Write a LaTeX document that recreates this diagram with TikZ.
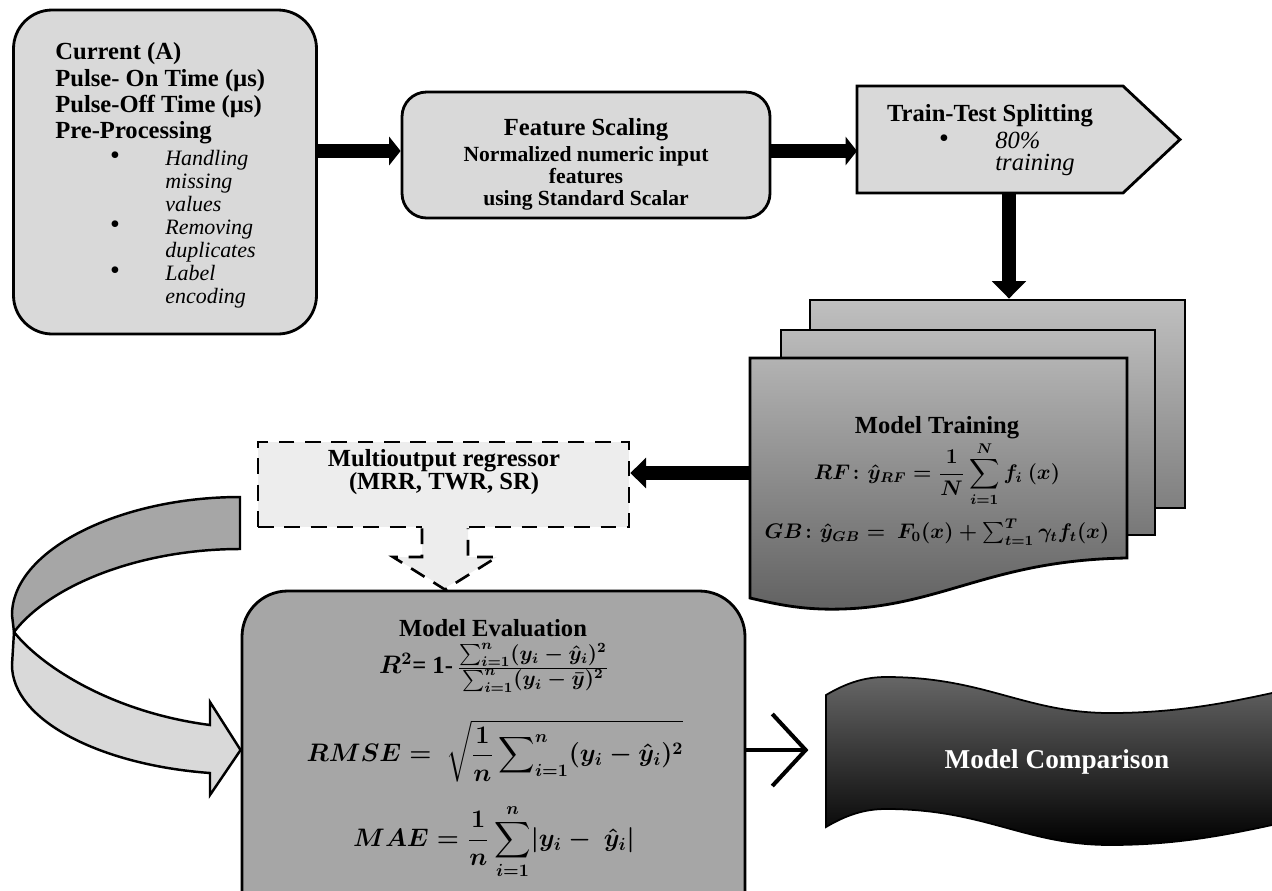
\documentclass[tikz,border=0pt]{standalone}
\usepackage{amsmath}
\usepackage{fontspec}
\setmainfont{Liberation Serif}
\usetikzlibrary{arrows.meta,calc}
\newdimen\upx \upx=0.02cm
\begin{document}
\begin{tikzpicture}[x=0.02cm,y=-0.02cm,
  bd/.style={draw=black, line width=1.6pt},
  lbox/.style={bd, fill=black!15},
  shp/.style={inner sep=0pt},
  hd/.style={font=\bfseries\fontsize{14}{16}\selectfont, inner sep=0pt},
  sub/.style={font=\bfseries\fontsize{12.3}{14}\selectfont, inner sep=0pt},
  itm/.style={font=\itshape\fontsize{12.5}{14}\selectfont, inner sep=0pt},
  itb/.style={font=\itshape\fontsize{14}{16}\selectfont, inner sep=0pt},
  bul/.style={font=\fontsize{16}{16}\selectfont, inner sep=0pt},
  eq/.style={font=\fontsize{14}{16}\selectfont\boldmath, inner sep=0pt},
  blkA/.style={draw=black, line width=7.9pt, -{Triangle[length=6.5pt, width=16pt]}},
  blkB/.style={draw=black, line width=8.5pt, -{Triangle[length=10pt, width=19pt]}},
  dsh/.style={draw=black, line width=1.5pt, dash pattern=on 9pt off 6pt},
]
\useasboundingbox (0,0) rectangle (1272,890);

% helper coordinates for connector heights
\coordinate (y151) at (0,151);
\coordinate (y473) at (0,473);
\coordinate (y750) at (0,750);

% ---------- Box 1 : inputs ----------
\node[lbox, shp, rounded corners=22pt, minimum width=303\upx, minimum height=324\upx] (inp) at (165,172) {};
\node[hd, anchor=base west] (i1) at (55,59) {Current (A)};
\node[hd, anchor=base west] (i2) at (55,86) {Pulse- On Time (µs)};
\node[hd, anchor=base west] (i3) at (55,112) {Pulse-Off Time (µs)};
\node[hd, anchor=base west] (i4) at (55,138) {Pre-Processing};
\node[bul] (ib1) at (115,158) {\textbullet};
\node[itm, anchor=base west] (i5) at (165,165) {Handling};
\node[itm, anchor=base west] (i6) at (165,188) {missing};
\node[itm, anchor=base west] (i7) at (165,211) {values};
\node[bul] (ib2) at (115,227) {\textbullet};
\node[itm, anchor=base west] (i8) at (165,234) {Removing};
\node[itm, anchor=base west] (i9) at (165,257) {duplicates};
\node[bul] (ib3) at (115,273) {\textbullet};
\node[itm, anchor=base west] (i10) at (165,280) {Label};
\node[itm, anchor=base west] (i11) at (165,303) {encoding};

% ---------- Box 2 : feature scaling ----------
\node[lbox, shp, rounded corners=14pt, minimum width=368\upx, minimum height=126\upx] (fs) at (586,155) {};
\node[hd, anchor=base] (f1) at (586,135) {Feature Scaling};
\node[sub, anchor=base] (f2) at (586,161) {Normalized numeric input};
\node[sub, anchor=base] (f3) at (586,183) {features};
\node[sub, anchor=base] (f4) at (586,205) {using Standard Scalar};

% ---------- Pentagon : train-test split ----------
\draw[lbox] (857,86) -- (1123,86) -- (1180,139.5) -- (1123,193) -- (857,193) -- cycle;
\coordinate (tts-w) at (857,151);
\coordinate (tts-s) at (1009,193);
\node[hd, anchor=base] (t1) at (990,121) {Train-Test Splitting};
\node[bul] (tb) at (944,141) {\textbullet};
\node[itb, anchor=base west] (t2) at (995,148) {80\%};
\node[itb, anchor=base west] (t3) at (995,170) {training};

% ---------- Stack : model training ----------
\node[bd, shp, top color=black!25, bottom color=black!50, minimum width=375\upx, minimum height=208\upx] (back) at (997.5,404) {};
\node[bd, shp, top color=black!27, bottom color=black!53, minimum width=374\upx, minimum height=205\upx] (mid) at (968,432.5) {};
\path[bd, top color=black!30, bottom color=black!62]
  (750,358) -- (1127,358) -- (1127,558)
  .. controls (1000,560) and (950,600) .. (860,608)
  .. controls (810,612) and (780,605) .. (750,598) -- cycle;
\coordinate (front-w) at (750,473);
\node[hd, anchor=base] (mt) at (937,433) {Model Training};
\node[eq, font=\fontsize{12}{14}\selectfont\boldmath] (rf) at (937,474) {$\displaystyle RF\colon\hat{y}_{RF}=\frac{1}{N}\sum_{i=1}^{N}f_i\ (x)$};
\node[eq, font=\fontsize{12}{14}\selectfont\boldmath] (gb) at (937,532) {$GB\colon\hat{y}_{GB}=\ F_0(x)+\sum_{t=1}^{T}\gamma_t f_t(x)$};

% ---------- Multioutput regressor ----------
\node[dsh, shp, fill=black!7, minimum width=371\upx, minimum height=85\upx] (mo) at (443.5,484.5) {};
\node[hd, anchor=base] (m1) at (444,466) {Multioutput regressor};
\node[hd, anchor=base] (m2) at (444,489) {(MRR, TWR, SR)};

% ---------- Model evaluation ----------
\node[bd, shp, fill=black!35, rounded corners=26pt, minimum width=503\upx, minimum height=369\upx] (eval) at (493.5,775.5) {};
\node[hd, anchor=base] (e1) at (493,636) {Model Evaluation};
\node[eq] (r2) at (494,668) {$R^{2}$\textbf{= 1-\,}{\fontsize{12}{13}\selectfont$\frac{\textstyle\sum_{i=1}^{n}(y_i-\hat{y}_i)^2}{\textstyle\sum_{i=1}^{n}(y_i-\bar{y})^2}$}};
\node[eq, font=\fontsize{14.5}{17}\selectfont\boldmath] (rmse) at (495,751) {$RMSE=\ \displaystyle\sqrt{\frac{1}{n}\sum\nolimits_{i=1}^{n}(y_i-\hat{y}_i)^2}$};
\node[eq, font=\fontsize{14.5}{17}\selectfont\boldmath] (mae) at (494,842) {$\displaystyle MAE=\frac{1}{n}\sum_{i=1}^{n}\lvert y_i-\ \hat{y}_i\rvert$};

% dashed block arrow from regressor to evaluation
\fill[black!7] (422,521) -- (468,521) -- (468,557) -- (497,557) -- (445,588) -- (393,557) -- (422,557) -- cycle;
\draw[dsh, line join=miter] (mo.south -| 422,0) -- (422,557) -- (393,557) -- (eval.north -| 445,0) -- (497,557) -- (468,557) -- (mo.south -| 468,0);

% ---------- Curved feedback arrow ----------
\draw[bd, line width=1.4pt, fill=black!35] (240,497) .. controls (120,497) and (12,550) .. (12,615) -- (14,632) .. controls (50,585) and (140,549) .. (240,549) -- cycle;
\draw[bd, line width=1.4pt, fill=black!15, line join=miter] (14,632) .. controls (40,665) and (110,712) .. (210,725) -- (210,702) -- (eval.west |- y750) -- (210,795) -- (210,773) .. controls (100,765) and (12,720) .. (12,665) -- cycle;

% ---------- Model comparison banner ----------
\shadedraw[draw=black, line width=1pt, top color=black!60, middle color=black, bottom color=black]
  (826,695) .. controls (848,682) and (866,677) .. (886,677)
  .. controls (985,677) and (1025,713) .. (1110,713)
  .. controls (1185,713) and (1240,700) .. (1295,688)
  -- (1295,820)
  .. controls (1240,832) and (1185,845) .. (1110,845)
  .. controls (1025,845) and (985,809) .. (886,809)
  .. controls (866,809) and (848,814) .. (826,827) -- cycle;
\coordinate (cmp-w) at (826,750);
\node[font=\bfseries\fontsize{15.5}{17}\selectfont, text=white, inner sep=0pt] (cmp) at (1057,762) {Model Comparison};

% ---------- Connectors ----------
\draw[blkA] (inp.east |- y151) -- (fs.west |- y151);
\draw[blkA] (fs.east |- y151) -- (tts-w);
\draw[blkB] (tts-s) -- (tts-s |- back.north);
\draw[draw=black, line width=8.5pt, -{Triangle[length=9pt, width=17pt]}] (front-w) -- (mo.east |- y473);
\draw[line width=2.3pt, line cap=round, -{Straight Barb[length=19pt, width=41pt, line width=2.3pt]}, shorten >=10pt] (eval.east |- y750) -- (cmp-w);
\end{tikzpicture}
\end{document}
